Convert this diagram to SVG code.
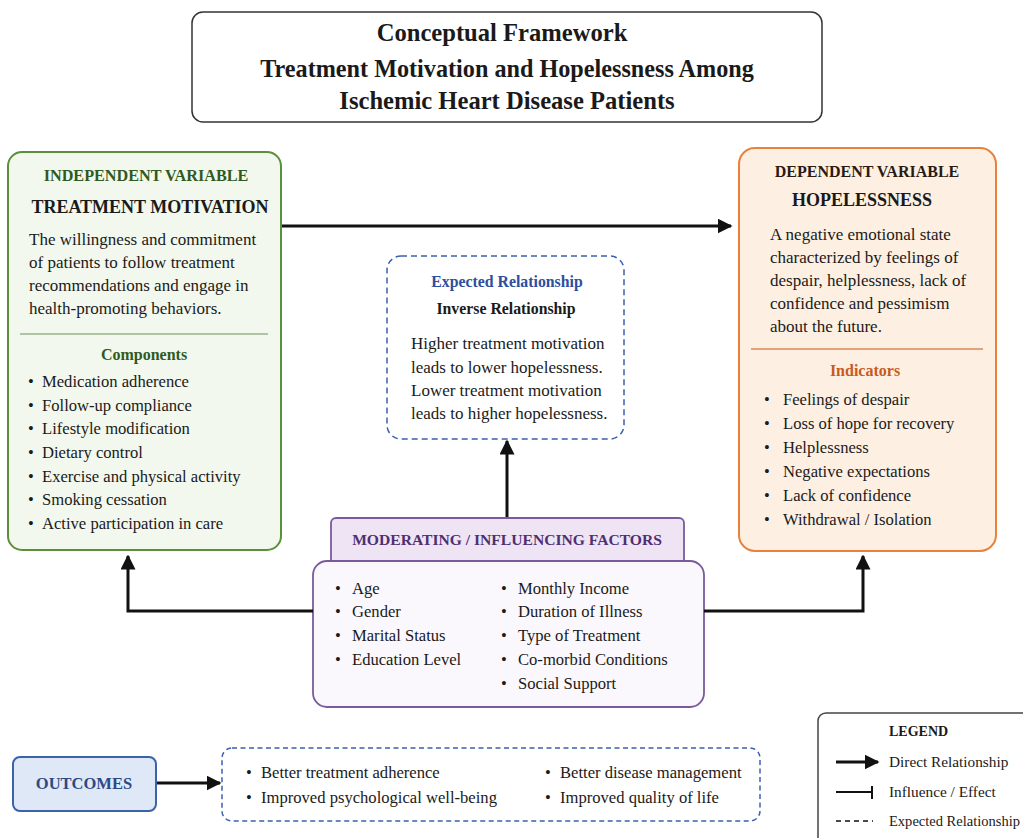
<svg xmlns="http://www.w3.org/2000/svg" width="1023" height="838" viewBox="0 0 1023 838" font-family="'Liberation Serif', 'Times New Roman', serif">
<style>
text{fill:#1a1a1a}
.b{font-weight:bold}
.c{text-anchor:middle}
.body{font-size:17px}
.li{font-size:16.6px}
.lg{font-size:15.3px}
.conn{stroke:#111;stroke-width:3;fill:none}
</style>
<defs>
<marker id="ah" viewBox="0 0 10 10" refX="9" refY="5" markerWidth="5" markerHeight="5" orient="auto" markerUnits="strokeWidth"><path d="M0,0 L10,5 L0,10 z" fill="#111"/></marker>
</defs>
<rect width="1023" height="838" fill="#fff"/>

<g id="title">
<rect x="192" y="12" width="630" height="110" rx="11" fill="#fff" stroke="#333" stroke-width="1.5"/>
<text class="b c" x="502" y="41" font-size="24.6">Conceptual Framework</text>
<text class="b c" x="507" y="77" font-size="24.2">Treatment Motivation and Hopelessness Among</text>
<text class="b c" x="507" y="109" font-size="24.6">Ischemic Heart Disease Patients</text>
</g>

<g id="independent">
<rect x="8" y="152" width="273" height="398" rx="14" fill="#f3f8ee" stroke="#5b8f3a" stroke-width="2"/>
<text class="b c" x="146" y="181" font-size="16.2" style="fill:#2f5a22">INDEPENDENT VARIABLE</text>
<text class="b c" x="150" y="213" font-size="18">TREATMENT MOTIVATION</text>
<text class="body" x="29" y="245">The willingness and commitment</text>
<text class="body" x="29" y="268">of patients to follow treatment</text>
<text class="body" x="29" y="291">recommendations and engage in</text>
<text class="body" x="29" y="314">health-promoting behaviors.</text>
<line x1="20" y1="334" x2="268" y2="334" stroke="#6f8f5a" stroke-width="1.2"/>
<text class="b c" x="144" y="360" font-size="16" style="fill:#2f5a22">Components</text>
<g class="li">
<text x="28" y="387">•</text><text x="42" y="387">Medication adherence</text>
<text x="28" y="411">•</text><text x="42" y="411">Follow-up compliance</text>
<text x="28" y="434">•</text><text x="42" y="434">Lifestyle modification</text>
<text x="28" y="458">•</text><text x="42" y="458">Dietary control</text>
<text x="28" y="482">•</text><text x="42" y="482">Exercise and physical activity</text>
<text x="28" y="505">•</text><text x="42" y="505">Smoking cessation</text>
<text x="28" y="529">•</text><text x="42" y="529">Active participation in care</text>
</g>
</g>

<g id="dependent">
<rect x="739" y="148" width="257" height="403" rx="16" fill="#fdf0e3" stroke="#e8823a" stroke-width="2"/>
<text class="b c" x="867" y="177" font-size="16" style="fill:#2a1a12">DEPENDENT VARIABLE</text>
<text class="b c" x="862" y="206" font-size="18">HOPELESSNESS</text>
<text class="body" x="770" y="240">A negative emotional state</text>
<text class="body" x="770" y="263">characterized by feelings of</text>
<text class="body" x="770" y="286">despair, helplessness, lack of</text>
<text class="body" x="770" y="309">confidence and pessimism</text>
<text class="body" x="770" y="332">about the future.</text>
<line x1="751" y1="349" x2="983" y2="349" stroke="#d9895a" stroke-width="1.5"/>
<text class="b c" x="865" y="376" font-size="16" style="fill:#c85a1e">Indicators</text>
<g class="li">
<text x="764" y="405">•</text><text x="783" y="405">Feelings of despair</text>
<text x="764" y="429">•</text><text x="783" y="429">Loss of hope for recovery</text>
<text x="764" y="453">•</text><text x="783" y="453">Helplessness</text>
<text x="764" y="477">•</text><text x="783" y="477">Negative expectations</text>
<text x="764" y="501">•</text><text x="783" y="501">Lack of confidence</text>
<text x="764" y="525">•</text><text x="783" y="525">Withdrawal / Isolation</text>
</g>
</g>

<g id="expected">
<rect x="387" y="256" width="237" height="183" rx="14" fill="#fff" stroke="#3d5fae" stroke-width="1.5" stroke-dasharray="6,4"/>
<text class="b c" x="507" y="287" font-size="15.8" style="fill:#2d4f9e">Expected Relationship</text>
<text class="b c" x="506" y="314" font-size="15.8">Inverse Relationship</text>
<text class="body" x="411" y="349" font-size="16.8">Higher treatment motivation</text>
<text class="body" x="411" y="373" font-size="16.8">leads to lower hopelessness.</text>
<text class="body" x="411" y="396" font-size="16.8">Lower treatment motivation</text>
<text class="body" x="411" y="419" font-size="16.8">leads to higher hopelessness.</text>
</g>

<g id="moderating">
<rect x="331" y="518" width="353" height="50" rx="5" fill="#eee4f4" stroke="#7a5a9a" stroke-width="1.8"/>
<text class="b c" x="507" y="545" font-size="15.6" style="fill:#4f2f72">MODERATING / INFLUENCING FACTORS</text>
<rect x="313" y="561" width="391" height="146" rx="14" fill="#faf8fc" stroke="#7a5a9a" stroke-width="1.8"/>
<g class="li">
<text x="335" y="594">•</text><text x="352" y="594">Age</text>
<text x="335" y="617">•</text><text x="352" y="617">Gender</text>
<text x="335" y="641">•</text><text x="352" y="641">Marital Status</text>
<text x="335" y="665">•</text><text x="352" y="665">Education Level</text>
<text x="501" y="594">•</text><text x="518" y="594">Monthly Income</text>
<text x="501" y="617">•</text><text x="518" y="617">Duration of Illness</text>
<text x="501" y="641">•</text><text x="518" y="641">Type of Treatment</text>
<text x="501" y="665">•</text><text x="518" y="665">Co-morbid Conditions</text>
<text x="501" y="689">•</text><text x="518" y="689">Social Support</text>
</g>
</g>

<g id="outcomes">
<rect x="13" y="757" width="143" height="54" rx="7" fill="#dfe8f6" stroke="#3b63a8" stroke-width="2"/>
<text class="b c" x="84" y="789" font-size="16.5" style="fill:#2a4a86">OUTCOMES</text>
</g>

<g id="outcome-list">
<rect x="222" y="748" width="538" height="73" rx="10" fill="#fff" stroke="#3d5fae" stroke-width="1.5" stroke-dasharray="5,3.5"/>
<g class="li">
<text x="246" y="778">•</text><text x="261" y="778">Better treatment adherence</text>
<text x="246" y="803">•</text><text x="261" y="803">Improved psychological well-being</text>
<text x="545" y="778">•</text><text x="560" y="778">Better disease management</text>
<text x="545" y="803">•</text><text x="560" y="803">Improved quality of life</text>
</g>
</g>

<g id="legend">
<rect x="818" y="713" width="215" height="135" rx="8" fill="#fff" stroke="#444" stroke-width="1.5"/>
<text class="b" x="889" y="736" font-size="14">LEGEND</text>
<line x1="836" y1="762" x2="878" y2="762" class="conn" stroke-width="2.5" marker-end="url(#ah)"/>
<text class="lg" x="889" y="767">Direct Relationship</text>
<line x1="836" y1="792" x2="872" y2="792" stroke="#111" stroke-width="2"/>
<line x1="872" y1="786" x2="872" y2="799" stroke="#111" stroke-width="2"/>
<text class="lg" x="889" y="797">Influence / Effect</text>
<line x1="836" y1="821" x2="873" y2="821" stroke="#111" stroke-width="1.5" stroke-dasharray="5,4"/>
<text x="889" y="826" font-size="15" textLength="131" lengthAdjust="spacingAndGlyphs">Expected Relationship</text>
</g>

<g id="connectors">
<line x1="282" y1="226" x2="731" y2="226" class="conn" marker-end="url(#ah)"/>
<line x1="507" y1="517" x2="507" y2="441" class="conn" marker-end="url(#ah)"/>
<polyline points="313,611 128,611 128,556" class="conn" marker-end="url(#ah)"/>
<polyline points="704,611 863,611 863,556" class="conn" marker-end="url(#ah)"/>
<line x1="157" y1="783" x2="220" y2="783" class="conn" marker-end="url(#ah)"/>
</g>
</svg>
